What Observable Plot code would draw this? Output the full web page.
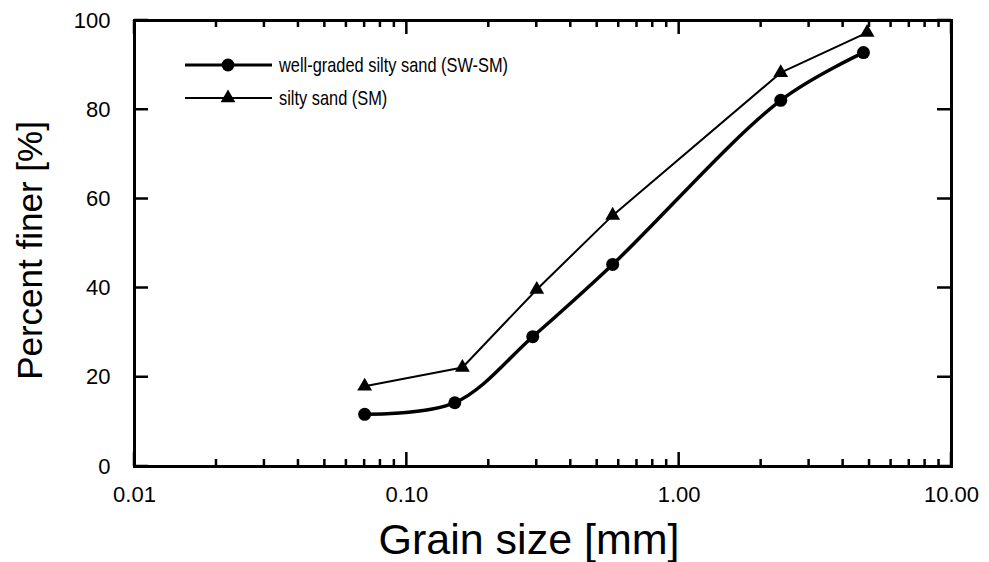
<!DOCTYPE html>
<html><head><meta charset="utf-8">
<script src="https://cdn.jsdelivr.net/npm/d3@7"></script>
<script src="https://cdn.jsdelivr.net/npm/@observablehq/plot@0.6"></script>
<style>
body{margin:0;background:#fff;}
#chart{position:relative;width:989px;height:562px;}
#chart svg{font-family:"Liberation Sans",Arial,sans-serif;background:#fff;}
</style></head><body><div id="chart"></div>
<script>
// Series: well-graded silty sand (SW-SM)
const swmGrain = [0.07, 0.15, 0.29, 0.57, 2.36, 4.75];
const swmFiner = [11.7, 14.3, 29.1, 45.3, 82.1, 92.8];
// Series: silty sand (SM)
const smGrain = [0.07, 0.16, 0.30, 0.57, 2.36, 4.9];
const smFiner = [18.0, 22.2, 39.7, 56.3, 88.3, 97.3];

const seriesNames = ["well-graded silty sand (SW-SM)", "silty sand (SM)"];
const xMajor = [0.01, 0.1, 1, 10];
const xMajorLabels = ["0.01", "0.10", "1.00", "10.00"];
const xMinor = [0.02,0.03,0.04,0.05,0.06,0.07,0.08,0.09,0.2,0.3,0.4,0.5,0.6,0.7,0.8,0.9,2,3,4,5,6,7,8,9];
const yTicks = [0, 20, 40, 60, 80, 100];

const swm = swmGrain.map((g, i) => ({g, f: swmFiner[i]}));
const sm = smGrain.map((g, i) => ({g, f: smFiner[i]}));
const xLabelOf = new Map(xMajor.map((d, i) => [d, xMajorLabels[i]]));

const W = 989, H = 562, ML = 134, MR = 38, MT = 20, MB = 96;
const majorLen = 14, minorLen = 7;

const chart = Plot.plot({
  width: W, height: H,
  marginLeft: ML, marginRight: MR, marginTop: MT, marginBottom: MB,
  style: {fontFamily: '"Liberation Sans", Arial, sans-serif', background: "#fff", color: "#000"},
  x: {type: "log", domain: [0.01, 10]},
  y: {domain: [0, 100]},
  marks: [
    Plot.axisX(xMajor, {anchor: "bottom", tickSize: 0, tickPadding: 20, tickFormat: d => xLabelOf.get(d), fontSize: 22, label: null}),
    Plot.axisY(yTicks, {anchor: "left", tickSize: 0, tickPadding: 24, fontSize: 22, label: null}),
    Plot.frame({stroke: "#000", strokeWidth: 3}),
    Plot.text(["Grain size [mm]"], {frameAnchor: "bottom", dx: -14, dy: 74, fontSize: 43, lineAnchor: "middle", textAnchor: "middle"}),
    Plot.text(["Percent finer [%]"], {frameAnchor: "left", dx: -104, dy: 7, rotate: -90, fontSize: 35, lineAnchor: "middle", textAnchor: "middle"}),
    Plot.line(sm, {x: "g", y: "f", stroke: "#000", strokeWidth: 2}),
    Plot.dot(sm, {x: "g", y: "f", symbol: "triangle", r: 5.5, fill: "#000"}),
    Plot.line(swm, {x: "g", y: "f", stroke: "#000", strokeWidth: 3.5, curve: "catmull-rom"}),
    Plot.dot(swm, {x: "g", y: "f", symbol: "circle", r: 6.5, fill: "#000"})
  ]
});
document.getElementById("chart").appendChild(chart);

const svg = d3.select(chart);
const sx = chart.scale("x"), sy = chart.scale("y");
const fLeft = ML, fRight = W - MR, fTop = MT, fBottom = H - MB;

// Inward ticks drawn at positions from Plot's own scales
const ticks = svg.append("g").attr("stroke", "#000").attr("stroke-width", 2.5).attr("fill", "none");
const addX = (vals, len) => vals.forEach(v => {
  const px = sx.apply(v);
  ticks.append("path").attr("d", `M${px},${fBottom}V${fBottom - len}M${px},${fTop}V${fTop + len}`);
});
addX(xMinor, minorLen);
addX(xMajor, majorLen);
yTicks.forEach(v => {
  const py = sy.apply(v);
  ticks.append("path").attr("d", `M${fLeft},${py}H${fLeft + majorLen}M${fRight},${py}H${fRight - majorLen}`);
});

// Legend (inside the frame, top-left)
const leg = svg.append("g").attr("font-size", 20).attr("fill", "#000").attr("text-anchor", "start");
const rows = [
  {y: 65, sym: d3.symbolCircle, size: Math.PI * 6.5 * 6.5, sw: 3},
  {y: 98, sym: d3.symbolTriangle, size: Math.PI * 5.5 * 5.5, sw: 2}
];
rows.forEach((r, i) => {
  leg.append("line").attr("x1", 185).attr("x2", 272).attr("y1", r.y).attr("y2", r.y)
    .attr("stroke", "#000").attr("stroke-width", r.sw);
  leg.append("path").attr("d", d3.symbol(r.sym, r.size)()).attr("transform", `translate(228,${r.y})`).attr("fill", "#000");
  leg.append("text").attr("transform", `translate(279,${r.y}) scale(0.82,1)`).attr("dy", "0.35em")
    .attr("text-anchor", "start").text(seriesNames[i]);
});
</script>
</body></html>
